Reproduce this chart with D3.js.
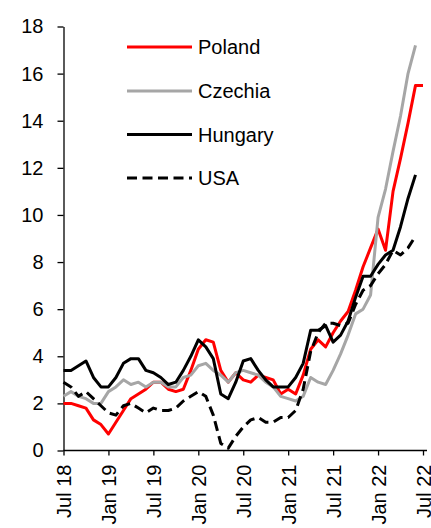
<!DOCTYPE html>
<html>
<head>
<meta charset="utf-8">
<script src="https://cdn.jsdelivr.net/npm/d3@7"></script>
<style>
  body { margin: 0; background: #fff; }
  svg { display: block; }
  text { font-family: "Liberation Sans", Arial, sans-serif; }
</style>
</head>
<body>
<div id="chart"></div>
<script>

// monthly categories, Jul 18 .. Jul 22
var months = ["Jul 18","Aug 18","Sep 18","Oct 18","Nov 18","Dec 18",
  "Jan 19","Feb 19","Mar 19","Apr 19","May 19","Jun 19",
  "Jul 19","Aug 19","Sep 19","Oct 19","Nov 19","Dec 19",
  "Jan 20","Feb 20","Mar 20","Apr 20","May 20","Jun 20",
  "Jul 20","Aug 20","Sep 20","Oct 20","Nov 20","Dec 20",
  "Jan 21","Feb 21","Mar 21","Apr 21","May 21","Jun 21",
  "Jul 21","Aug 21","Sep 21","Oct 21","Nov 21","Dec 21",
  "Jan 22","Feb 22","Mar 22","Apr 22","May 22","Jun 22","Jul 22"];

var tick_labels = ["Jul 18","Jan 19","Jul 19","Jan 20","Jul 20","Jan 21","Jul 21","Jan 22","Jul 22"];
var y_ticks = [0, 2, 4, 6, 8, 10, 12, 14, 16, 18];

var poland = [2.0,2.0,1.9,1.8,1.3,1.1, 0.7,1.2,1.7,2.2,2.4,2.6, 2.9,2.9,2.6,2.5,2.6,3.4,
  4.3,4.7,4.6,3.4,2.9,3.3, 3.0,2.9,3.2,3.1,3.0,2.4, 2.6,2.4,3.2,4.3,4.7,4.4,
  5.0,5.5,5.9,6.8,7.8,8.6, 9.4,8.5,11.0,12.4,13.9,15.5, 15.5];

var czechia = [2.3,2.5,2.3,2.2,2.0,2.0, 2.5,2.7,3.0,2.8,2.9,2.7, 2.9,2.9,2.7,2.7,3.1,3.2,
  3.6,3.7,3.4,3.2,2.9,3.3, 3.4,3.3,3.2,2.9,2.7,2.3, 2.2,2.1,2.3,3.1,2.9,2.8,
  3.4,4.1,4.9,5.8,6.0,6.6, 9.9,11.1,12.7,14.2,16.0,17.2];

var hungary = [3.4,3.4,3.6,3.8,3.1,2.7, 2.7,3.1,3.7,3.9,3.9,3.4, 3.3,3.1,2.8,2.9,3.4,4.0,
  4.7,4.4,3.9,2.4,2.2,2.9, 3.8,3.9,3.4,3.0,2.7,2.7, 2.7,3.1,3.7,5.1,5.1,5.3,
  4.6,4.9,5.5,6.5,7.4,7.4, 7.9,8.3,8.5,9.5,10.7,11.7];

var usa = [2.9,2.7,2.3,2.5,2.2,1.9, 1.6,1.5,1.9,2.0,1.8,1.6, 1.8,1.7,1.7,1.8,2.1,2.3,
  2.5,2.3,1.5,0.3,0.1,0.6, 1.0,1.3,1.4,1.2,1.2,1.4, 1.4,1.7,2.6,4.2,5.0,5.4,
  5.4,5.3,5.4,6.2,6.8,7.0, 7.5,7.9,8.5,8.3,8.6,9.1];

var series_names = ["Poland", "Czechia", "Hungary", "USA"];
var series_values = [poland, czechia, hungary, usa];
var series_colors = ["#ff0000", "#a6a6a6", "#000000", "#000000"];
var series_dash = [null, null, null, "10,5.5"];

var width = 431, height = 528;
var plot_left = 63.5, plot_right = 423, plot_top = 26.5, plot_bottom = 450.5;

var svg = d3.select("#chart")
  .append("svg")
  .attr("width", width)
  .attr("height", height);

var x = d3.scalePoint()
  .domain(months)
  .range([plot_left, plot_right]);

var y = d3.scaleLinear()
  .domain([0, 18])
  .range([plot_bottom, plot_top]);

// y axis
var y_axis = svg.append("g")
  .attr("transform", "translate(" + plot_left + ",0)")
  .call(d3.axisLeft(y).tickValues(y_ticks).tickSize(6).tickSizeOuter(0).tickPadding(14));

y_axis.selectAll("text")
  .style("font-size", "20px")
  .attr("fill", "#000");

// x axis
var x_axis = svg.append("g")
  .attr("transform", "translate(0," + plot_bottom + ")")
  .call(d3.axisBottom(x).tickValues(tick_labels).tickSize(5).tickSizeOuter(0));

// axis line runs a little past the last tick
x_axis.select(".domain").attr("d", "M" + plot_left + ",0H" + (plot_right + 4));

x_axis.selectAll("text")
  .style("font-size", "20px")
  .attr("fill", "#000")
  .attr("transform", "rotate(-90)")
  .attr("text-anchor", "end")
  .attr("x", -14)
  .attr("y", 0)
  .attr("dy", "0.35em");

svg.selectAll(".domain, .tick line")
  .attr("stroke", "#000")
  .attr("stroke-width", 1.3);

// lines
var line = d3.line()
  .x(function(d, i){ return x(months[i]); })
  .y(function(d){ return y(d); });

series_values.forEach(function(vals, k){
  svg.append("path")
    .datum(vals)
    .attr("fill", "none")
    .attr("stroke", series_colors[k])
    .attr("stroke-width", 3)
    .attr("stroke-linejoin", "round")
    .attr("stroke-dasharray", series_dash[k])
    .attr("d", line);
});

// legend
var legend_y = [47, 91, 134.5, 178];
var legend = svg.append("g");

series_names.forEach(function(name, k){
  legend.append("line")
    .attr("x1", 127).attr("x2", 192)
    .attr("y1", legend_y[k]).attr("y2", legend_y[k])
    .attr("stroke", series_colors[k])
    .attr("stroke-width", 3)
    .attr("stroke-dasharray", series_dash[k]);
  legend.append("text")
    .attr("x", 198)
    .attr("y", legend_y[k])
    .attr("dy", "0.35em")
    .style("font-size", "20px")
    .text(name);
});

</script>
</body>
</html>
